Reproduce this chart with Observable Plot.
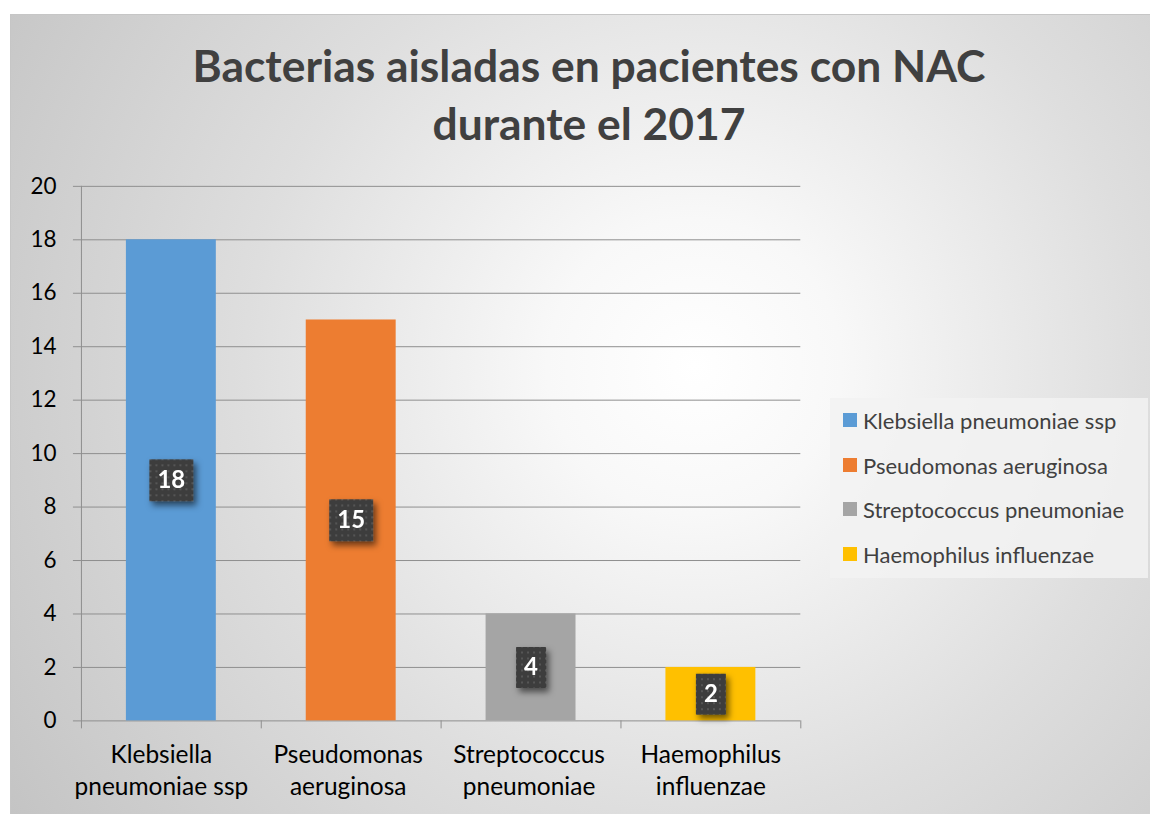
<!DOCTYPE html>
<html>
<head>
<meta charset="utf-8">
<script src="https://cdn.jsdelivr.net/npm/d3@7"></script>
<script src="https://cdn.jsdelivr.net/npm/@observablehq/plot@0.6"></script>
<style>
  html, body { margin: 0; padding: 0; background: #ffffff; }
  body { width: 1150px; height: 814px; position: relative; overflow: hidden; font-family: Lato, "Open Sans", sans-serif; }
  #chart {
    position: absolute; left: 10px; top: 14px; width: 1140px; height: 800px;
    background: radial-gradient(circle at 60% 44%, #ffffff 0%, #f8f8f8 18%, #dedede 55%, #c4c4c4 100%);
    border-top: 1px solid #c6c6c6; border-left: 1px solid #c6c6c6; box-sizing: border-box;
  }
  #chart svg { position: absolute; left: 0; top: 0; }
  #title {
    position: absolute; left: 8px; top: 21px; width: 1140px; text-align: center;
    font-weight: 700; font-size: 44.4px; line-height: 58px; color: #404040;
  }
  #legend {
    position: absolute; left: 819px; top: 383px; width: 318px; height: 180px;
    background: rgba(242,242,242,0.85);
  }
  .item { position: absolute; left: 13px; height: 26px; display: flex; align-items: center;
    font-size: 22px; color: #404040; white-space: nowrap; }
  .sw { width: 14px; height: 14px; margin-right: 6px; flex: none; }
</style>
</head>
<body>
<div id="chart">
  <div id="title"></div>
  <div id="legend"></div>
</div>
<script>
const titleLines = ["Bacterias aisladas en pacientes con NAC", "durante el 2017"];
const categories = ["Klebsiella pneumoniae ssp", "Pseudomonas aeruginosa", "Streptococcus pneumoniae", "Haemophilus influenzae"];
const tickLabels = ["Klebsiella\npneumoniae ssp", "Pseudomonas\naeruginosa", "Streptococcus\npneumoniae", "Haemophilus\ninfluenzae"];
const values = [18, 15, 4, 2];
const colors = ["#5b9bd5", "#ed7d31", "#a5a5a5", "#ffc000"];
const yTicks = [0, 2, 4, 6, 8, 10, 12, 14, 16, 18, 20];

const data = categories.map((c, i) => ({cat: c, label: tickLabels[i], v: values[i]}));

// title
const title = document.getElementById("title");
titleLines.forEach(t => { const d = document.createElement("div"); d.textContent = t; title.appendChild(d); });

// legend
const legend = document.getElementById("legend");
const legendCenters = [22, 67, 111, 156];
categories.forEach((c, i) => {
  const it = document.createElement("div");
  it.className = "item";
  it.style.top = (legendCenters[i] - 13) + "px";
  const sw = document.createElement("span");
  sw.className = "sw"; sw.style.background = colors[i];
  const tx = document.createElement("span"); tx.textContent = c;
  it.appendChild(sw); it.appendChild(tx);
  legend.appendChild(it);
});

const box = (w, h) => ({draw(ctx) { ctx.rect(-w / 2, -h / 2, w, h); }});
const gridColor = "#8f8f8f";
// small horizontal nudges of the category labels (layout, as in the original)
const labelNudge = [-10, -3, -2, 0];

const plot = Plot.plot({
  width: 1140, height: 800,
  marginLeft: 70, marginRight: 350, marginTop: 171, marginBottom: 94,
  style: {background: "transparent", fontFamily: "Lato, 'Open Sans', sans-serif", overflow: "visible", color: "#000"},
  x: {domain: categories, padding: 0, label: null, axis: null},
  y: {domain: [0, 20], label: null, axis: null},
  color: {domain: categories, range: colors},
  marks: [
    Plot.gridY(yTicks, {stroke: gridColor, strokeOpacity: 1}),
    Plot.barY(data, {x: "cat", y: "v", fill: "cat", insetLeft: 45, insetRight: 45}),
    Plot.frame({anchor: "left", stroke: gridColor}),
    Plot.ruleX(categories, {dx: -90, stroke: gridColor, insetTop: 535, insetBottom: -8}),
    Plot.ruleX([categories[categories.length - 1]], {dx: 90, stroke: gridColor, insetTop: 535, insetBottom: -8}),
    Plot.axisY(yTicks, {tickSize: 8, tickPadding: 17, fontSize: 22.5, stroke: gridColor, fill: "#000", label: null}),
    ...categories.map((c, i) => Plot.axisX([c], {tickSize: 0, tickPadding: 20, fontSize: 24.5, lineHeight: 1.3, fill: "#000",
      label: null, dx: labelNudge[i], tickFormat: d => tickLabels[categories.indexOf(d)]})),
    Plot.dot(data.filter(d => String(d.v).length > 1), {x: "cat", y: d => d.v / 2, symbol: box(44, 42), r: 5, fill: "#3f3f3f", stroke: "none"}),
    Plot.dot(data.filter(d => String(d.v).length === 1), {x: "cat", y: d => d.v / 2, symbol: box(30, 41), r: 5, fill: "#3f3f3f", stroke: "none"}),
    Plot.text(data, {x: "cat", y: d => d.v / 2, text: d => String(d.v), fill: "#ffffff", fontWeight: "bold", fontSize: 24})
  ]
});

// defs: dotted pattern + shadow
const ns = "http://www.w3.org/2000/svg";
const defs = document.createElementNS(ns, "defs");
defs.innerHTML = `
  <pattern id="dotpat" width="6" height="6" patternUnits="userSpaceOnUse">
    <rect width="6" height="6" fill="#3d3d3d"></rect>
    <rect x="2" y="2" width="2" height="2" fill="#575757"></rect>
  </pattern>
  <filter id="shadow" x="-50%" y="-50%" width="200%" height="200%">
    <feDropShadow dx="3" dy="4" stdDeviation="3" flood-color="#000" flood-opacity="0.55"></feDropShadow>
  </filter>`;
plot.insertBefore(defs, plot.firstChild);
plot.querySelectorAll('g[fill="#3f3f3f"]').forEach(g => {
  g.setAttribute("fill", "url(#dotpat)");
  g.setAttribute("filter", "url(#shadow)");
});

document.getElementById("chart").insertBefore(plot, document.getElementById("title"));
</script>
</body>
</html>
